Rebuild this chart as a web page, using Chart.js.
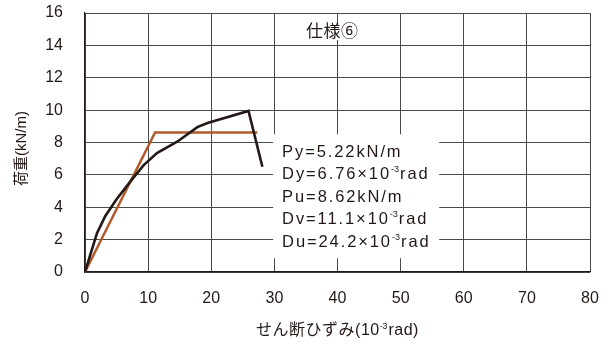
<!DOCTYPE html>
<html>
<head>
<meta charset="utf-8">
<script src="https://cdn.jsdelivr.net/npm/chart.js@4"></script>
<style>
  html, body { margin: 0; padding: 0; background: #fff; }
  #wrap { width: 611px; height: 345px; }
</style>
</head>
<body>
<div id="wrap"><canvas id="loadChart" width="611" height="345"></canvas></div>
<script>
// shear strain (10^-3 rad) vs load (kN/m)
const strainTest = [0, 1.9, 3.2, 5.0, 7.2, 9.3, 11.4, 14.6, 17.8, 19.4, 25.9, 28.1];
const loadTest = [0, 2.4, 3.45, 4.5, 5.6, 6.6, 7.35, 8.05, 8.95, 9.2, 9.95, 6.5];

// bilinear model: origin -> (Dv, Pu) -> end of plateau
const strainModel = [0, 11.1, 27.3];
const loadModel = [0, 8.62, 8.62];

const xTicks = [0, 10, 20, 30, 40, 50, 60, 70, 80];
const yTicks = [0, 2, 4, 6, 8, 10, 12, 14, 16];

const specLabel = "仕様⑥";
const resultLines = [
  ["Py=5.22kN/m"],
  ["Dy=6.76×10", "-3", "rad"],
  ["Pu=8.62kN/m"],
  ["Dv=11.1×10", "-3", "rad"],
  ["Du=24.2×10", "-3", "rad"]
];
const xTitle = ["せん断ひずみ(10", "-3", "rad)"];
const yTitle = "荷重(kN/m)";

const FONT = "'Liberation Sans', 'Noto Sans CJK JP', sans-serif";
const INK = "#231815";
const GRID = "#4a4a4a";

function toPoints(xs, ys) {
  return xs.map((x, i) => ({ x: x, y: ys[i] }));
}

// writes text pieces; odd-indexed pieces are small raised exponents
function drawParts(ctx, parts, x, y, size, spacing) {
  let cx = x;
  parts.forEach((p, i) => {
    const sup = i % 2 === 1;
    ctx.font = (sup ? size * 0.55 : size) + "px " + FONT;
    ctx.letterSpacing = (sup ? 0 : spacing) + "px";
    ctx.fillText(p, cx, sup ? y - size * 0.3 : y);
    cx += ctx.measureText(p).width + (sup ? 1 : 0);
  });
  ctx.letterSpacing = "0px";
  return cx;
}

function partsWidth(ctx, parts, size, spacing) {
  let w = 0;
  parts.forEach((p, i) => {
    const sup = i % 2 === 1;
    ctx.font = (sup ? size * 0.55 : size) + "px " + FONT;
    ctx.letterSpacing = (sup ? 0 : spacing) + "px";
    w += ctx.measureText(p).width + (sup ? 1 : 0);
  });
  ctx.letterSpacing = "0px";
  return w;
}

const notes = {
  id: "notes",
  beforeDatasetsDraw(chart) {
    const ctx = chart.ctx;
    const xs = chart.scales.x, ys = chart.scales.y;
    ctx.save();
    // white panel behind the result list
    const left = xs.getPixelForValue(29.8), right = xs.getPixelForValue(56.1);
    const top = ys.getPixelForValue(8.5), bottom = ys.getPixelForValue(0.85);
    ctx.fillStyle = "#fff";
    ctx.fillRect(left, top, right - left, bottom - top);

    ctx.fillStyle = INK;
    ctx.textBaseline = "middle";
    ctx.textAlign = "left";
    resultLines.forEach((line, i) => {
      drawParts(ctx, line, left + 9, top + 18 + i * 22.5, 16.5, 1.9);
    });

    // spec label
    ctx.font = "17px " + FONT;
    ctx.letterSpacing = "0.5px";
    const sw = ctx.measureText(specLabel).width;
    const sx = xs.getPixelForValue(35);
    ctx.fillStyle = "#fff";
    ctx.fillRect(sx + 1, 25, sw - 2, 15);
    ctx.fillStyle = INK;
    ctx.fillText(specLabel, sx, 32);
    ctx.letterSpacing = "0px";
    ctx.restore();
  },
  afterDraw(chart) {
    const ctx = chart.ctx;
    const area = chart.chartArea;
    ctx.save();
    ctx.fillStyle = INK;
    ctx.textBaseline = "middle";
    ctx.textAlign = "left";
    const w = partsWidth(ctx, xTitle, 16, 0.5);
    drawParts(ctx, xTitle, (area.left + area.right) / 2 - w / 2, 331, 16, 0.5);

    ctx.translate(22, (area.top + area.bottom) / 2 + 6);
    ctx.rotate(-Math.PI / 2);
    ctx.textAlign = "center";
    ctx.font = "15px " + FONT;
    ctx.fillText(yTitle, 0, 0);
    ctx.restore();
  }
};

new Chart(document.getElementById("loadChart"), {
  type: "scatter",
  data: {
    datasets: [
      {
        data: toPoints(strainTest, loadTest),
        showLine: true,
        borderColor: INK,
        borderWidth: 2.6,
        pointRadius: 0,
        tension: 0
      },
      {
        data: toPoints(strainModel, loadModel),
        showLine: true,
        borderColor: "#b35a2a",
        borderWidth: 2.5,
        pointRadius: 0,
        tension: 0
      }
    ]
  },
  options: {
    responsive: false,
    animation: false,
    layout: { padding: { top: 13, right: 21, left: 0, bottom: 0 } },
    plugins: { legend: { display: false }, tooltip: { enabled: false } },
    scales: {
      x: {
        type: "linear",
        min: 0,
        max: 80,
        afterBuildTicks: s => { s.ticks = xTicks.map(v => ({ value: v })); },
        afterFit: s => { s.height = 73; s.paddingLeft = 0; s.paddingRight = 0; },
        grid: { color: GRID, lineWidth: 1, drawTicks: false },
        border: { color: INK, width: 1.2 },
        ticks: { color: INK, padding: 17, font: { family: FONT, size: 16 }, maxRotation: 0 }
      },
      y: {
        type: "linear",
        min: 0,
        max: 16,
        afterBuildTicks: s => { s.ticks = yTicks.map(v => ({ value: v })); },
        afterFit: s => { s.width = 85; s.paddingTop = 0; s.paddingBottom = 0; },
        grid: { color: GRID, lineWidth: 1, drawTicks: false },
        border: { color: INK, width: 1.2 },
        ticks: { color: INK, padding: 22, font: { family: FONT, size: 16 } }
      }
    }
  },
  plugins: [notes]
});
</script>
</body>
</html>
